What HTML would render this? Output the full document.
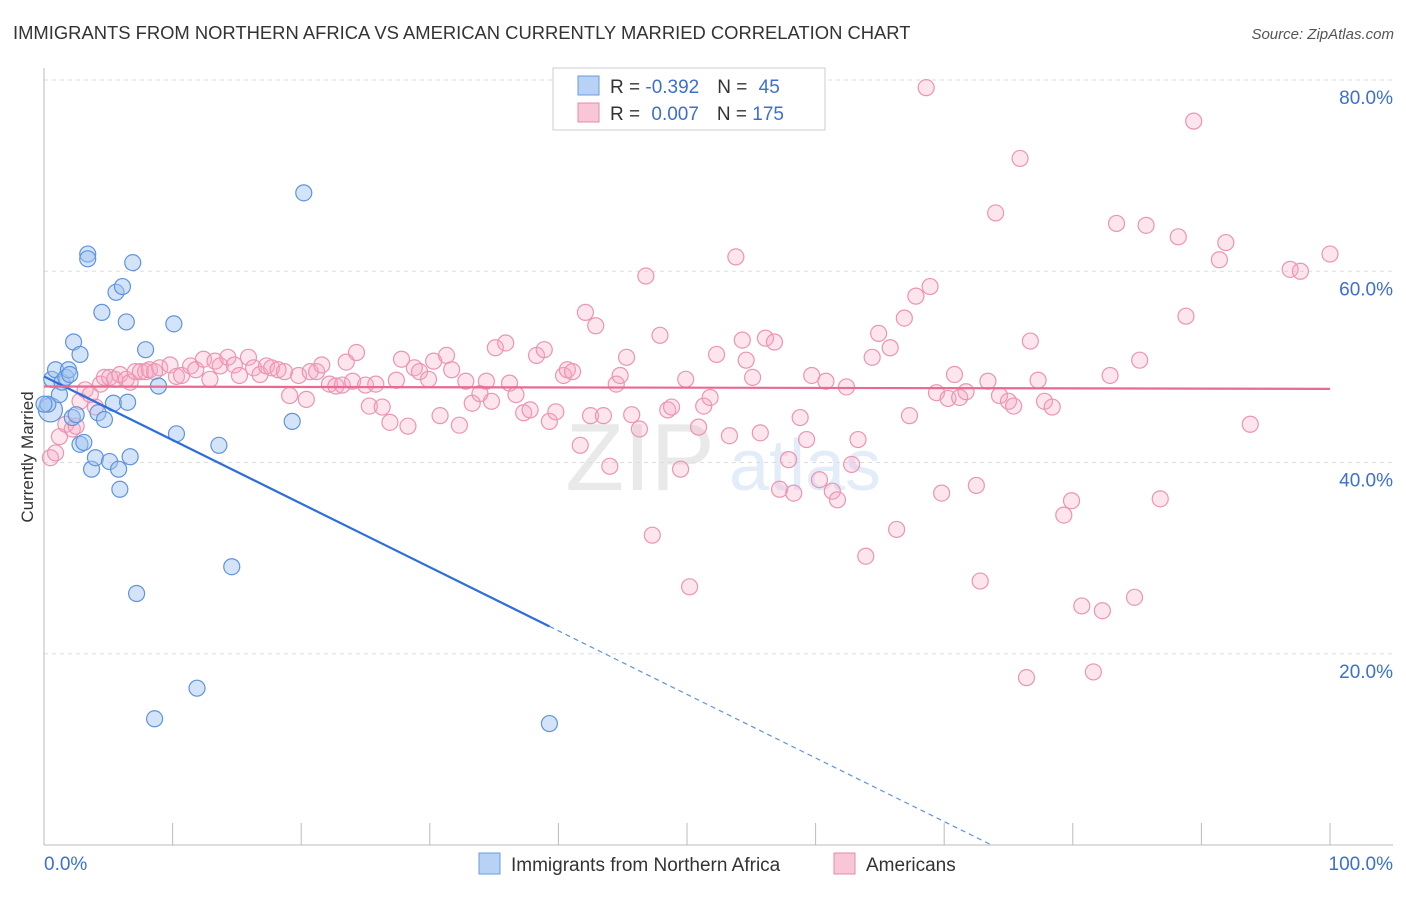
<!DOCTYPE html>
<html><head><meta charset="utf-8">
<style>
body{margin:0;background:#fff;font-family:"Liberation Sans",sans-serif;}
svg text{font-family:"Liberation Sans",sans-serif;}
</style></head>
<body>
<svg id="chart" width="1406" height="892" xmlns="http://www.w3.org/2000/svg">
<text x="13" y="39" font-size="18.4" fill="#333">IMMIGRANTS FROM NORTHERN AFRICA VS AMERICAN CURRENTLY MARRIED CORRELATION CHART</text>
<text x="1394" y="39" font-size="15" fill="#555" font-style="italic" text-anchor="end">Source: ZipAtlas.com</text>
<text transform="translate(33,457) rotate(-90)" font-size="17" fill="#333" text-anchor="middle">Currently Married</text>
<g opacity="0.18">
<text x="640" y="490" font-size="96" font-family="Liberation Serif" fill="#888" text-anchor="middle">ZIP</text>
<text x="805" y="490" font-size="72" fill="#6b9be0" text-anchor="middle">atlas</text>
</g>
<g id="grid"></g><g id="axes"></g><g id="pink"></g><g id="blue"></g><g id="trends"></g>
<g>
<rect x="553" y="68" width="272" height="62" fill="#fff" stroke="#ccc"/>
<rect x="578" y="76" width="21" height="19" fill="#b7d2f4" stroke="#6a9be0"/>
<rect x="578" y="103" width="21" height="19" fill="#f8c6d5" stroke="#e68aaa"/>
<text x="610" y="93" font-size="19" fill="#333">R = <tspan fill="#3d6fce">-0.392</tspan><tspan dx="18">N = </tspan><tspan dx="6" fill="#3d6fce">45</tspan></text>
<text x="610" y="120" font-size="19" fill="#333">R = <tspan dx="6" fill="#3d6fce">0.007</tspan><tspan dx="18">N = </tspan><tspan fill="#3d6fce">175</tspan></text>
</g>
<g>
<rect x="479" y="853" width="21" height="21" fill="#b7d2f4" stroke="#6a9be0"/>
<text x="511" y="871" font-size="19" fill="#333">Immigrants from Northern Africa</text>
<rect x="834" y="853" width="21" height="21" fill="#f8c6d5" stroke="#e68aaa"/>
<text x="866" y="871" font-size="19" fill="#333">Americans</text>
</g>
</svg>
<script>
const blueX=[0.5,0.3,0.6,0.9,1.2,1.4,1.7,1.9,2.0,2.3,2.8,2.2,2.5,2.8,3.1,3.4,3.4,3.7,4.0,4.2,4.7,4.5,5.1,5.4,5.6,5.8,5.9,6.1,6.4,6.5,6.7,6.9,7.2,7.9,8.6,8.9,10.1,10.3,11.9,13.6,14.6,19.3,20.2,39.3,0];
const blueY=[45.5,46.1,48.7,49.7,47.1,48.4,48.9,49.7,49.2,52.6,51.3,44.7,45.0,41.9,42.1,61.8,61.3,39.3,40.5,45.2,44.5,55.7,40.1,46.2,57.8,39.3,37.2,58.4,54.7,46.3,40.6,60.9,26.3,51.8,13.2,48.0,54.5,43.0,16.4,41.8,29.1,44.3,68.2,12.7,46.1];
const pinkX=[0.5,0.9,1.2,1.7,2.2,2.5,2.8,3.2,3.6,4.0,4.4,4.7,5.1,5.5,5.9,6.4,6.7,7.1,7.5,7.9,8.2,8.6,9.0,9.8,10.3,10.7,11.4,11.8,12.4,12.9,13.3,13.7,14.3,14.8,15.2,15.9,16.3,16.8,17.3,17.7,18.2,18.7,19.1,19.8,20.4,20.7,21.2,21.6,22.2,22.7,23.2,23.5,24.0,24.3,25.0,25.3,25.8,26.3,26.9,27.4,27.8,28.3,28.8,29.2,29.9,30.3,30.8,31.3,31.7,32.3,32.8,33.3,33.9,34.4,34.8,35.1,35.9,36.2,36.7,37.3,37.8,38.3,38.9,39.3,39.8,40.4,40.7,41.1,41.7,42.1,42.5,42.9,43.5,44.0,44.5,44.8,45.3,45.7,46.3,46.8,47.3,47.9,48.5,48.8,49.5,49.9,50.2,50.9,51.3,51.8,52.3,53.3,53.8,54.3,54.6,55.1,55.7,56.1,56.8,57.2,57.9,58.3,58.8,59.3,59.7,60.3,60.8,61.3,61.7,62.4,62.8,63.3,63.9,64.4,64.9,65.8,66.3,66.9,67.3,67.8,68.6,68.9,69.4,69.8,70.3,70.8,71.2,71.7,72.5,72.8,73.4,74.0,74.3,75.0,75.4,75.9,76.4,76.7,77.3,77.8,78.4,79.3,79.9,80.7,81.6,82.3,82.9,83.4,84.8,85.2,85.7,86.8,88.2,88.8,89.4,91.4,91.9,93.8,96.9,97.7,100];
const pinkY=[40.5,41.0,42.7,44.0,43.5,43.8,46.4,47.6,47.1,45.8,48.2,48.9,48.9,48.7,49.2,48.7,48.4,49.5,49.5,49.5,49.7,49.5,49.9,50.2,49.0,49.1,50.1,49.7,50.8,48.7,50.6,50.1,51.0,50.2,49.1,51.0,49.9,49.2,50.1,49.9,49.7,49.5,47.0,49.1,46.6,49.5,49.5,50.2,48.2,48.0,48.1,50.5,48.5,51.5,48.1,45.9,48.2,45.8,44.2,48.6,50.8,43.8,49.9,49.5,48.7,50.6,44.9,51.2,49.7,43.9,48.5,46.2,47.2,48.5,46.4,52.0,52.5,48.3,47.1,45.2,45.5,51.2,51.8,44.3,45.3,49.1,49.7,49.5,41.8,55.7,44.9,54.3,44.9,39.6,48.2,49.1,51.0,45.0,43.5,59.5,32.4,53.3,45.5,45.8,39.3,48.7,27.0,43.7,45.9,46.8,51.3,42.8,61.5,52.8,50.7,48.9,43.1,53.0,52.6,37.2,40.3,36.8,44.7,42.4,49.1,38.2,48.5,37.0,36.1,47.9,39.8,42.4,30.2,51.0,53.5,52.0,33.0,55.1,44.9,57.4,79.2,58.4,47.3,36.8,46.7,49.2,46.8,47.4,37.6,27.6,48.5,66.1,47.0,46.4,45.9,71.8,17.5,52.7,48.6,46.4,45.8,34.5,36.0,25.0,18.1,24.5,49.1,65.0,25.9,50.7,64.8,36.2,63.6,55.3,75.7,61.2,63.0,44.0,60.2,60.0,61.8];
const yTicks=[20,40,60,80];
const yTickLabels=["20.0%","40.0%","60.0%","80.0%"];
const xTicks=[0,10,20,30,40,50,60,70,80,90,100];
const blueTrend=[49.0,-0.665];   // intercept, slope
const pinkTrend=[47.95,-0.0025];
const X0=44,X1=1330;
function sx(v){return X0+(X1-X0)*v/100;}
function sy(v){return 845-(845-80)*v/80;}
const NS="http://www.w3.org/2000/svg";
function mk(tag,attrs,parent){const e=document.createElementNS(NS,tag);for(const k in attrs)e.setAttribute(k,attrs[k]);parent.appendChild(e);return e;}
const grid=document.getElementById('grid'),axes=document.getElementById('axes');
yTicks.forEach((t,i)=>{
  const l=mk('line',{x1:44,x2:1393,y1:sy(t),y2:sy(t),stroke:'#ddd','stroke-dasharray':'4,4'},grid);
  
  
  const tx=mk('text',{x:1393,y:sy(t)+24,'font-size':19,fill:'#3d6fce','text-anchor':'end'},axes);
  tx.textContent=yTickLabels[i];
  
  
});
const ax=mk('line',{x1:44,x2:44,y1:68,y2:845,stroke:'#bbb'},axes);


const bx=mk('line',{x1:44,x2:1393,y1:845,y2:845,stroke:'#bbb'},axes);


xTicks.forEach(t=>{
  const l=mk('line',{x1:sx(t),x2:sx(t),y1:823,y2:845,stroke:'#bbb'},axes);
  
  
});
const xl0=mk('text',{x:44,y:870,'font-size':19,fill:'#3d6fce'},axes);xl0.textContent='0.0%';


const xl1=mk('text',{x:1393,y:870,'font-size':19,fill:'#3d6fce','text-anchor':'end'},axes);xl1.textContent='100.0%';


const pg=document.getElementById('pink');
pinkX.forEach((x,i)=>{
  const c=mk('circle',{cx:sx(x),cy:sy(pinkY[i]),r:8,fill:'rgba(244,170,196,0.3)',stroke:'#ec94b3','stroke-width':1.2},pg);
  
  
});
const bg=document.getElementById('blue');
blueX.forEach((x,i)=>{
  const c=mk('circle',{cx:sx(x),cy:sy(blueY[i]),r:i===0?12:8,fill:'rgba(160,195,240,0.45)',stroke:'#5f93dc','stroke-width':1.2},bg);
  
  
});
const tg=document.getElementById('trends');
const bEnd=39.3, bZero=-blueTrend[0]/blueTrend[1];
const t1=mk('line',{x1:sx(0),y1:sy(blueTrend[0]),x2:sx(bEnd),y2:sy(blueTrend[0]+blueTrend[1]*bEnd),stroke:'#2c6fdc','stroke-width':2.2},tg);


const t2=mk('line',{x1:sx(bEnd),y1:sy(blueTrend[0]+blueTrend[1]*bEnd),x2:sx(bZero),y2:sy(0),stroke:'#5f93dc','stroke-width':1.2,'stroke-dasharray':'5,4'},tg);


const t3=mk('line',{x1:sx(0),y1:sy(pinkTrend[0]),x2:sx(100),y2:sy(pinkTrend[0]+pinkTrend[1]*100),stroke:'#e86a92','stroke-width':2.2},tg);


</script>
</body></html>
